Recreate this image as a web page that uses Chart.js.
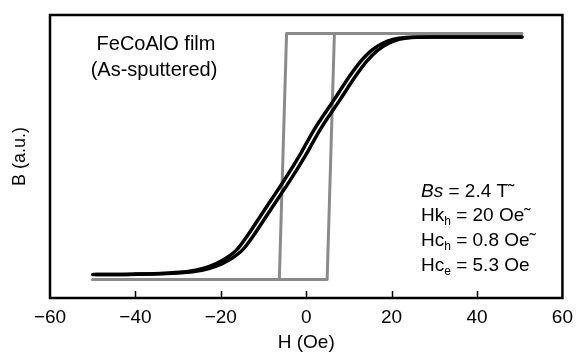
<!DOCTYPE html>
<html>
<head>
<meta charset="utf-8">
<script src="https://cdn.jsdelivr.net/npm/chart.js@4.4.1/dist/chart.umd.min.js"></script>
<style>
  html, body { margin: 0; padding: 0; background: #fff; }
  #wrap { width: 581px; height: 360px; }
</style>
</head>
<body>
<div id="wrap"><canvas id="loopChart" width="581" height="360"></canvas></div>
<script>
// Easy-axis loop (gray): nearly square, each branch point by point
const easyDownH = [50.5, -4.6, -6.3, -50];
const easyDownB = [1.0, 1.0, -1.0, -1.0];
const easyUpH = [-50, 4.9, 6.6, 50.5];
const easyUpB = [-1.0, -1.0, 1.0, 1.0];

// Hard-axis loop (black): two close branches, both listed by rising H
const hardB = [-0.959, -0.956, -0.948, -0.935, -0.91, -0.872, -0.825, -0.755, -0.64, -0.43, -0.19,
               0.03, 0.215, 0.46, 0.66, 0.775, 0.862, 0.918, 0.952, 0.968, 0.972, 0.972];
const hardUpH = [-49.3, -39.3, -31.3, -26.3, -22.8, -19.8, -17.3, -14.8, -12.3, -8.3, -3.7,
                 0.2, 3.2, 7.9, 11.7, 14.2, 16.7, 19.2, 21.7, 24.7, 30.7, 50.5];
const hardDownH = [-50, -40.7, -32.7, -27.7, -24.2, -21.2, -18.7, -16.2, -13.7, -9.7, -5.1,
                   -1.2, 1.8, 6.5, 10.3, 12.8, 15.3, 17.8, 20.3, 23.3, 29.3, 50.5];

const xTicks = [-60, -40, -20, 0, 20, 40, 60];

const FONT = '"Liberation Sans", Arial, sans-serif';
const GRAY = '#8a8a8a';

function toPoints(hs, bs) {
  return hs.map((h, i) => ({ x: h, y: bs[i] }));
}

function lineSet(hs, bs, color, width, smooth) {
  return {
    data: toPoints(hs, bs),
    showLine: true,
    borderColor: color,
    borderWidth: width,
    pointRadius: 0,
    tension: smooth ? 0.4 : 0,
    cubicInterpolationMode: smooth ? 'monotone' : 'default',
    borderCapStyle: 'round',
    borderJoinStyle: 'round',
    fill: false
  };
}

// frame around the plot area + inward ticks on the bottom axis
const framePlugin = {
  id: 'frame',
  afterDatasetsDraw(chart) {
    const { ctx, chartArea: a, scales: { x } } = chart;
    ctx.save();
    ctx.strokeStyle = '#000';
    ctx.lineWidth = 1.5;
    xTicks.slice(1, -1).forEach(v => {
      const px = Math.round(x.getPixelForValue(v)) + 0.5;
      ctx.beginPath();
      ctx.moveTo(px, a.bottom);
      ctx.lineTo(px, a.bottom - 7);
      ctx.stroke();
    });
    ctx.lineWidth = 2.5;
    ctx.strokeRect(a.left, a.top, a.right - a.left, a.bottom - a.top);
    ctx.restore();
  }
};

// write runs of text: [text, style] where style is 'n', 'i', 'sub'
function drawRuns(ctx, x, y, runs, size) {
  runs.forEach(([txt, st]) => {
    let dy = 0;
    if (st === 'i') ctx.font = `italic ${size}px ${FONT}`;
    else if (st === 'sub') { ctx.font = `${Math.round(size * 0.62)}px ${FONT}`; dy = 6; }
    else ctx.font = `${size}px ${FONT}`;
    ctx.fillText(txt, x, y + dy);
    x += ctx.measureText(txt).width;
  });
}

const textPlugin = {
  id: 'notes',
  afterDraw(chart) {
    const ctx = chart.ctx;
    ctx.save();
    ctx.fillStyle = '#000';
    ctx.textBaseline = 'middle';
    ctx.textAlign = 'center';
    ctx.font = `20px ${FONT}`;
    ctx.fillText('FeCoAlO film', 156, 44);
    ctx.fillText('(As-sputtered)', 154, 70);

    ctx.textAlign = 'left';
    const left = 421;
    drawRuns(ctx, left, 192, [['Bs', 'i'], [' = 2.4 T˜', 'n']], 19);
    drawRuns(ctx, left, 216, [['Hk', 'n'], ['h', 'sub'], [' = 20 Oe˜', 'n']], 19);
    drawRuns(ctx, left, 241, [['Hc', 'n'], ['h', 'sub'], [' = 0.8 Oe˜', 'n']], 19);
    drawRuns(ctx, left, 266, [['Hc', 'n'], ['e', 'sub'], [' = 5.3 Oe', 'n']], 19);
    ctx.restore();
  }
};

const ctx = document.getElementById('loopChart').getContext('2d');
new Chart(ctx, {
  type: 'scatter',
  data: {
    datasets: [
      lineSet(hardUpH, hardB, '#000', 3.5, true),
      lineSet(hardDownH, hardB, '#000', 3.5, true),
      lineSet(easyDownH, easyDownB, GRAY, 3, false),
      lineSet(easyUpH, easyUpB, GRAY, 3, false)
    ]
  },
  options: {
    responsive: false,
    animation: false,
    devicePixelRatio: 1,
    layout: { padding: { top: 15, right: 13, left: 0, bottom: 0 } },
    plugins: { legend: { display: false }, tooltip: { enabled: false } },
    scales: {
      x: {
        type: 'linear',
        min: -60,
        max: 60,
        afterBuildTicks: s => { s.ticks = xTicks.map(v => ({ value: v })); },
        grid: { display: false, drawTicks: false },
        border: { display: false },
        ticks: {
          color: '#000',
          padding: 8,
          maxRotation: 0,
          font: { family: FONT, size: 19 },
          callback: v => String(v).replace('-', '\u2212')
        },
        title: {
          display: true,
          text: 'H (Oe)',
          color: '#000',
          font: { family: FONT, size: 19 },
          padding: { top: 4, bottom: 6 }
        },
        afterFit: s => { s.height = 62; }
      },
      y: {
        type: 'linear',
        min: -1.15,
        max: 1.15,
        ticks: { display: false },
        grid: { display: false, drawTicks: false },
        border: { display: false },
        title: {
          display: true,
          text: 'B (a.u.)',
          color: '#000',
          font: { family: FONT, size: 18 },
          padding: { top: 9, bottom: 0 }
        },
        afterFit: s => { s.width = 50; }
      }
    }
  },
  plugins: [framePlugin, textPlugin]
});
</script>
</body>
</html>
